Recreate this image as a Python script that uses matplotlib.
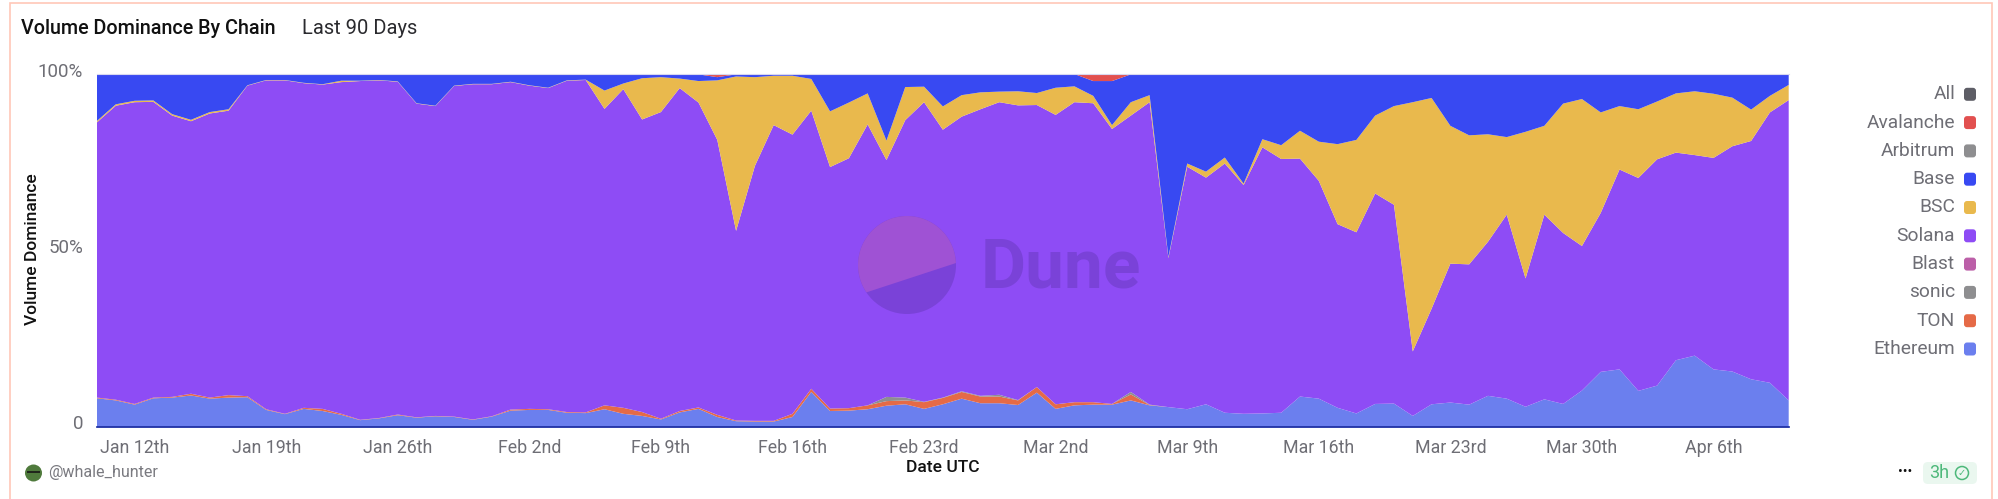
import numpy as np
import pandas as pd
import matplotlib
matplotlib.use("Agg")
import matplotlib.pyplot as plt
from matplotlib.patches import Circle, FancyBboxPatch, Polygon, Rectangle
from matplotlib.transforms import IdentityTransform, ScaledTranslation

plt.rcParams["font.family"] = ["Roboto", "DejaVu Sans"]

WIDTH = 1999
HEIGHT = 499

START_DATE = "2025-01-10"
N_DAYS = 91

ETHEREUM = [
    8.0, 7.4, 6.2, 8.0, 8.2, 8.8, 7.9, 8.2, 8.3, 4.7,
    3.5, 5.0, 4.4, 3.3, 1.8, 2.3, 3.2, 2.5, 2.9, 2.7,
    1.9, 2.8, 4.5, 4.7, 4.7, 3.9, 3.8, 4.9, 3.6, 3.0,
    2.0, 4.0, 5.0, 2.7, 1.5, 1.4, 1.4, 2.7, 9.8, 4.4,
    4.5, 4.9, 5.9, 6.3, 5.0, 6.3, 7.9, 6.6, 6.6, 6.1,
    9.6, 5.0, 6.0, 6.2, 6.2, 7.4, 6.0, 5.5, 4.9, 6.3,
    3.9, 3.6, 3.7, 3.9, 8.5, 7.9, 5.3, 3.7, 6.4, 6.5,
    3.0, 6.3, 6.8, 6.2, 8.7, 7.9, 5.6, 7.7, 6.4, 10.2,
    15.5, 16.2, 10.1, 11.6, 18.8, 20.1, 16.2, 15.6, 13.4, 12.4, 7.4,
]
TON = [
    0.2, 0.2, 0.2, 0.2, 0.2, 0.5, 0.3, 0.7, 0.3, 0.2,
    0.1, 0.3, 0.6, 0.3, 0.1, 0.1, 0.2, 0.1, 0.1, 0.1,
    0.1, 0.1, 0.3, 0.3, 0.2, 0.2, 0.2, 1.1, 1.7, 1.1,
    0.2, 0.4, 0.4, 0.6, 0.2, 0.2, 0.2, 0.9, 0.9, 0.7,
    0.7, 1.1, 1.3, 1.1, 1.9, 1.8, 1.9, 1.9, 1.9, 1.3,
    1.6, 1.3, 0.9, 0.7, 0.2, 1.7, 0.1, 0.0, 0.0, 0.0,
    0.0, 0.0, 0.0, 0.0, 0.0, 0.0, 0.0, 0.0, 0.0, 0.0,
    0.0, 0.0, 0.0, 0.0, 0.0, 0.0, 0.0, 0.0, 0.0, 0.0,
    0.0, 0.0, 0.0, 0.0, 0.0, 0.0, 0.0, 0.0, 0.0, 0.0, 0.0,
]
SONIC = [
    0.0, 0.0, 0.0, 0.0, 0.0, 0.0, 0.0, 0.0, 0.0, 0.0,
    0.0, 0.0, 0.0, 0.0, 0.0, 0.0, 0.0, 0.0, 0.0, 0.0,
    0.0, 0.0, 0.0, 0.0, 0.0, 0.0, 0.0, 0.0, 0.0, 0.0,
    0.0, 0.0, 0.0, 0.0, 0.0, 0.0, 0.0, 0.0, 0.0, 0.0,
    0.0, 0.0, 1.2, 0.8, 0.1, 0.1, 0.2, 0.2, 0.5, 0.1,
    0.0, 0.0, 0.0, 0.0, 0.0, 0.7, 0.1, 0.0, 0.0, 0.0,
    0.0, 0.0, 0.0, 0.0, 0.0, 0.0, 0.0, 0.0, 0.0, 0.0,
    0.0, 0.0, 0.0, 0.0, 0.0, 0.0, 0.0, 0.0, 0.0, 0.0,
    0.0, 0.0, 0.0, 0.0, 0.0, 0.0, 0.0, 0.0, 0.0, 0.0, 0.0,
]
SOLANA = [
    78.1, 83.4, 85.6, 83.9, 79.8, 77.3, 80.6, 80.7, 88.1, 93.3,
    94.6, 92.1, 92.0, 94.1, 96.1, 95.8, 94.4, 89.0, 87.9, 93.8,
    95.1, 94.2, 92.9, 91.7, 91.1, 94.0, 94.3, 84.1, 90.4, 83.0,
    87.0, 91.6, 86.5, 78.0, 53.8, 72.3, 83.9, 79.2, 78.9, 68.5,
    70.9, 79.7, 67.2, 78.7, 85.0, 76.0, 77.9, 81.3, 83.0, 83.6,
    80.0, 82.1, 85.1, 84.8, 78.0, 78.4, 85.8, 42.3, 68.8, 64.3,
    70.7, 64.9, 75.5, 72.0, 67.5, 61.8, 52.1, 51.4, 59.7, 56.4,
    18.3, 27.1, 39.4, 39.8, 43.7, 52.2, 36.4, 52.4, 48.5, 41.0,
    45.1, 56.7, 60.4, 64.2, 58.9, 56.9, 60.0, 63.9, 67.6, 76.7, 85.2,
]
BSC = [
    0.4, 0.4, 0.4, 0.4, 0.4, 0.4, 0.4, 0.4, 0.1, 0.1,
    0.1, 0.1, 0.1, 0.4, 0.1, 0.1, 0.1, 0.1, 0.1, 0.1,
    0.1, 0.1, 0.1, 0.1, 0.1, 0.1, 0.1, 5.2, 1.6, 11.7,
    9.9, 2.7, 6.1, 16.9, 43.8, 25.2, 14.0, 16.7, 9.0, 15.8,
    15.8, 8.8, 5.5, 9.4, 4.4, 6.6, 6.1, 4.8, 3.0, 4.0,
    3.4, 7.7, 4.5, 2.1, 1.1, 3.8, 2.0, 0.3, 0.9, 1.7,
    1.7, 0.4, 2.3, 3.9, 7.9, 11.1, 22.7, 26.2, 22.1, 28.0,
    70.7, 59.8, 39.1, 36.6, 30.5, 22.0, 41.6, 25.2, 36.7, 41.7,
    28.5, 18.0, 19.5, 16.4, 16.8, 18.1, 18.2, 13.8, 8.9, 4.7, 4.3,
]
BASE = [
    13.3, 8.6, 7.6, 7.5, 11.4, 13.0, 10.8, 10.0, 3.2, 1.7,
    1.7, 2.5, 2.9, 1.9, 1.9, 1.7, 2.1, 8.3, 9.0, 3.3,
    2.8, 2.8, 2.2, 3.2, 3.9, 1.8, 1.6, 4.7, 2.7, 1.2,
    0.9, 1.3, 1.9, 0.9, 0.6, 0.9, 0.5, 0.5, 1.4, 10.6,
    8.1, 5.5, 18.9, 3.7, 3.6, 9.2, 5.9, 5.1, 5.0, 4.9,
    5.4, 3.9, 3.5, 4.2, 12.5, 7.9, 6.0, 51.9, 25.3, 27.7,
    23.7, 31.1, 18.5, 20.2, 16.1, 19.2, 19.9, 18.7, 11.8, 9.1,
    8.0, 6.8, 14.7, 17.4, 17.1, 17.9, 16.4, 14.7, 8.4, 7.1,
    10.9, 9.1, 10.0, 7.8, 5.5, 4.9, 5.6, 6.7, 10.0, 6.1, 3.1,
]
AVALANCHE = [
    0.0, 0.0, 0.0, 0.0, 0.0, 0.0, 0.0, 0.0, 0.0, 0.0,
    0.0, 0.0, 0.0, 0.0, 0.0, 0.0, 0.0, 0.0, 0.0, 0.0,
    0.0, 0.0, 0.0, 0.0, 0.0, 0.0, 0.0, 0.0, 0.0, 0.0,
    0.0, 0.0, 0.1, 0.9, 0.1, 0.0, 0.0, 0.0, 0.0, 0.0,
    0.0, 0.0, 0.0, 0.0, 0.0, 0.0, 0.1, 0.1, 0.0, 0.0,
    0.0, 0.0, 0.0, 2.0, 2.0, 0.1, 0.0, 0.0, 0.1, 0.0,
    0.0, 0.0, 0.0, 0.0, 0.0, 0.0, 0.0, 0.0, 0.0, 0.0,
    0.0, 0.0, 0.0, 0.0, 0.0, 0.0, 0.0, 0.0, 0.0, 0.0,
    0.0, 0.0, 0.0, 0.0, 0.0, 0.0, 0.0, 0.0, 0.1, 0.1, 0.0,
]

LEGEND_LABELS = ["All", "Avalanche", "Arbitrum", "Base", "BSC", "Solana", "Blast", "sonic", "TON", "Ethereum"]
LEGEND_COLORS = ["#5E5E66", "#E2504F", "#8E8E90", "#3849F2", "#E9B94D", "#8E4CF5", "#BC5FA8", "#8E8E90", "#E56A47", "#6B7FEE"]

TICK_DATES = ["2025-01-12", "2025-01-19", "2025-01-26", "2025-02-02", "2025-02-09", "2025-02-16",
              "2025-02-23", "2025-03-02", "2025-03-09", "2025-03-16", "2025-03-23", "2025-03-30", "2025-04-06"]
TICK_LABELS = ["Jan 12th", "Jan 19th", "Jan 26th", "Feb 2nd", "Feb 9th", "Feb 16th",
               "Feb 23rd", "Mar 2nd", "Mar 9th", "Mar 16th", "Mar 23rd", "Mar 30th", "Apr 6th"]

TEXT_GREY = "#6E6E75"


def fx(x):
    return x / WIDTH


def fy(y):
    return 1 - y / HEIGHT


def add_px_patch(fig, patch):
    # decorations are placed in pixels of the final image
    patch.set_transform(IdentityTransform())
    fig.add_artist(patch)


def draw_watermark(fig):
    cx, cy, radius = 907, HEIGHT - 265, 49
    add_px_patch(fig, Circle((cx, cy), radius, facecolor="#7A42D8", edgecolor="none", zorder=5))
    angles = np.radians(np.linspace(2.3, 214, 60))
    arc = np.column_stack([cx + radius * np.cos(angles), cy + radius * np.sin(angles)])
    add_px_patch(fig, Polygon(arc, closed=True, facecolor="#9F52D4", edgecolor="none", zorder=6))
    fig.text(fx(981), fy(288), "Dune", fontsize=50, fontweight="bold", color="#7A42D8",
             ha="left", va="baseline", zorder=6)


def draw_legend(fig):
    for i, (label, color) in enumerate(zip(LEGEND_LABELS, LEGEND_COLORS)):
        y = 94.3 + i * 28.3
        fig.text(fx(1955), fy(y), label, fontsize=13.8, color=TEXT_GREY, ha="right", va="center")
        add_px_patch(fig, FancyBboxPatch((1965, HEIGHT - y - 5.5), 10, 11,
                                         boxstyle="round,pad=1,rounding_size=3",
                                         facecolor=color, edgecolor="none"))


def draw_footer(fig):
    add_px_patch(fig, Circle((33.5, HEIGHT - 473), 8.5, facecolor="#4F7A3C", edgecolor="none"))
    add_px_patch(fig, Rectangle((27, HEIGHT - 473), 13, 2.5, facecolor="#20261C", edgecolor="none"))
    fig.text(fx(48), fy(473), "@whale_hunter", fontsize=11.6, color="#7A7A80", ha="left", va="center")

    fig.text(fx(1905.5), fy(472), "•••", fontsize=10, color="#111111", ha="center", va="center")
    add_px_patch(fig, FancyBboxPatch((1926, HEIGHT - 481), 48, 16,
                                     boxstyle="round,pad=3,rounding_size=5",
                                     facecolor="#EAF7EF", edgecolor="none"))
    fig.text(fx(1929), fy(473), "3h", fontsize=13, color="#4DB87A", ha="left", va="center")
    add_px_patch(fig, Circle((1962, HEIGHT - 473), 6.5, facecolor="none", edgecolor="#4DB87A", linewidth=1.1, zorder=4))
    fig.text(fx(1962), fy(473), "✓", fontsize=7, color="#4DB87A", ha="center", va="center",
             family="DejaVu Sans", zorder=4)


def main():
    dates = pd.date_range(START_DATE, periods=N_DAYS)
    stack = np.array([ETHEREUM, TON, SONIC, SOLANA, BSC, BASE, AVALANCHE], dtype=float)
    shares = stack / stack.sum(axis=0) * 100

    fig = plt.figure(figsize=(WIDTH / 100, HEIGHT / 100), dpi=100, facecolor="white")
    ax = fig.add_axes([fx(97), fy(426.5), fx(1788.7) - fx(97), fy(74) - fy(426.5)])

    ax.stackplot(dates, shares,
                 colors=["#6B7FEE", "#E56A47", "#8E8E90", "#8E4CF5", "#E9B94D", "#3849F2", "#E2504F"],
                 linewidth=0)

    ax.set_xlim(dates[0], dates[-1])
    ax.set_ylim(0, 100)

    ax.set_xticks(pd.to_datetime(TICK_DATES))
    ax.set_xticklabels(TICK_LABELS, fontsize=12.8, color=TEXT_GREY)
    ax.set_yticks([0, 50, 100])
    ax.set_yticklabels(["0", "50%", "100%"], fontsize=13.5, color=TEXT_GREY)
    ax.tick_params(axis="both", length=0)
    ax.tick_params(axis="x", pad=9)
    ax.tick_params(axis="y", pad=10)

    # y labels sit slightly above their value in the original
    nudge_up = ScaledTranslation(0, 3 / 72, fig.dpi_scale_trans)
    for label in ax.get_yticklabels():
        label.set_transform(label.get_transform() + nudge_up)

    for side in ["left", "right"]:
        ax.spines[side].set_visible(False)
    ax.spines["top"].set_color("#D8D8F0")
    ax.spines["top"].set_linewidth(0.8)
    ax.spines["bottom"].set_color("#0A1E9C")
    ax.spines["bottom"].set_linewidth(1.2)

    fig.text(fx(33), fy(249), "Volume Dominance", fontsize=12.5, fontweight="medium", color="#111111",
             rotation=90, ha="center", va="center")
    fig.text(fx(943), fy(468), "Date UTC", fontsize=12.5, fontweight="medium", color="#111111",
             ha="center", va="center")

    fig.text(fx(21), fy(29), "Volume Dominance By Chain", fontsize=14.2, fontweight="medium", color="#111111",
             ha="left", va="center")
    fig.text(fx(302), fy(29), "Last 90 Days", fontsize=14.5, color="#2A2A2E", ha="left", va="center")

    draw_watermark(fig)
    draw_legend(fig)
    draw_footer(fig)

    # card border, its bottom edge is cut off by the screenshot
    add_px_patch(fig, Rectangle((10, -6), 1982, HEIGHT + 3, facecolor="none", edgecolor="#FFC7B8", linewidth=1.2))

    fig.savefig("out.png", dpi=100)
    plt.close(fig)


if __name__ == "__main__":
    main()
